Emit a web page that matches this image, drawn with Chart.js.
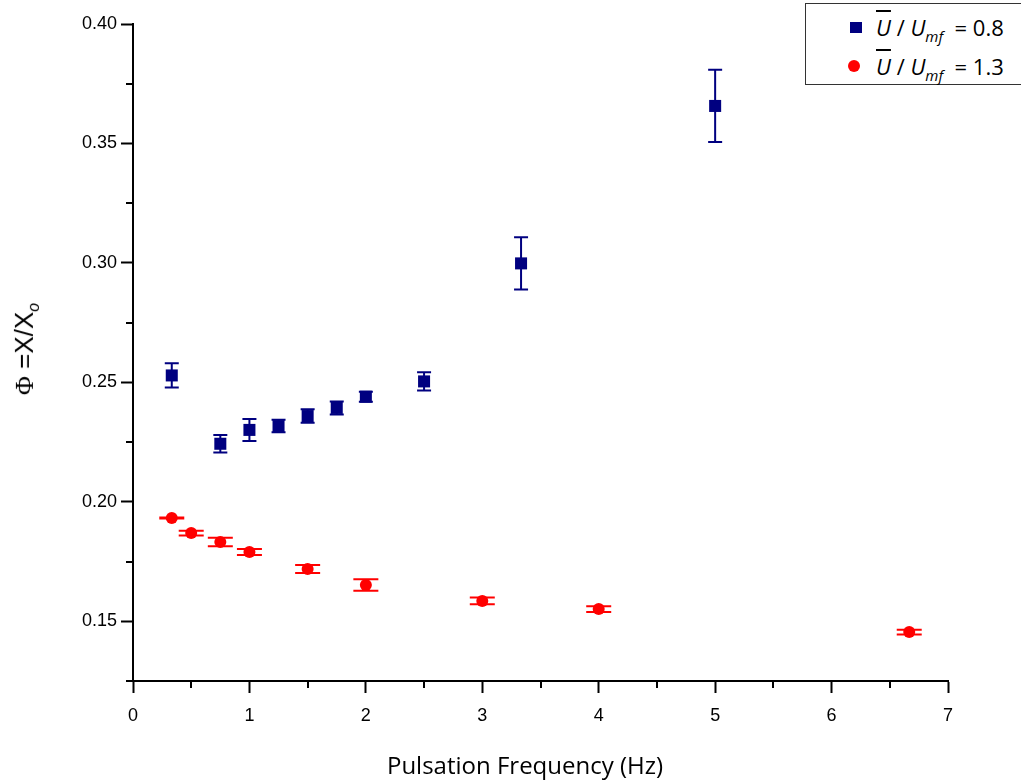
<!DOCTYPE html>
<html>
<head>
<meta charset="utf-8">
<script src="https://cdn.jsdelivr.net/npm/chart.js@4.4.1/dist/chart.umd.min.js"></script>
<style>
  html, body { margin: 0; padding: 0; background: #fff; }
  #wrap { position: relative; width: 1021px; height: 783px; overflow: hidden; }
  #chart { position: absolute; left: 0; top: 0; }
  .legend { position: absolute; left: 805px; top: 3px; width: 230px; height: 80px;
    border: 1px solid #333; background: #fff; font-family: "Open Sans", sans-serif; font-size: 22px; color: #000; }
  .row { position: absolute; left: 0; height: 30px; line-height: 30px; white-space: nowrap; }
  .mk { position: absolute; }
  .lt { position: absolute; left: 70px; }
  .ov { text-decoration: overline; font-style: italic; }
  .it { font-style: italic; }
  .sb { font-style: italic; font-size: 15px; position: relative; top: 6px; }
  #ytitle { position: absolute; left: 26px; top: 349px; transform: translate(-50%, -50%) rotate(-90deg);
    font-family: "Liberation Sans", Arial, sans-serif; font-size: 26px; white-space: nowrap; }
  #ytitle .phi { font-family: "Liberation Serif", serif; }
  #ytitle sub { font-size: 16px; font-style: italic; }
  #xtitle { position: absolute; left: 525px; top: 764px; transform: translate(-50%, -50%);
    font-family: "Open Sans", sans-serif; font-size: 24px; white-space: nowrap; }
</style>
</head>
<body>
<div id="wrap">
  <canvas id="chart" width="1021" height="783"></canvas>
  <div id="ytitle"><span class="phi">&Phi;</span> =X/X<sub>o</sub></div>
  <div id="xtitle">Pulsation Frequency (Hz)</div>
  <div class="legend">
    <div class="row" style="top: 8px;">
      <span class="mk" style="left: 44px; top: 10px; width: 12px; height: 11px; background: #000080;"></span>
      <span class="lt"><span class="ov">U</span> / <span class="it">U</span><span class="sb">mf</span>&nbsp; = 0.8</span>
    </div>
    <div class="row" style="top: 47px;">
      <span class="mk" style="left: 42px; top: 9px; width: 12px; height: 12px; border-radius: 50%; background: #ff0000;"></span>
      <span class="lt"><span class="ov">U</span> / <span class="it">U</span><span class="sb">mf</span>&nbsp; = 1.3</span>
    </div>
  </div>
</div>
<script>
// Ū/Umf = 0.8
const blueX = [0.333, 0.75, 1.0, 1.25, 1.5, 1.75, 2.0, 2.5, 3.333, 5.0];
const blueY = [0.2529, 0.2243, 0.2301, 0.2317, 0.2359, 0.2393, 0.2440, 0.2504, 0.2998, 0.3657];
const blueErr = [0.0051, 0.0037, 0.0046, 0.0026, 0.0028, 0.0027, 0.0021, 0.0038, 0.0109, 0.0151];

// Ū/Umf = 1.3
const redX = [0.333, 0.5, 0.75, 1.0, 1.5, 2.0, 3.0, 4.0, 6.667];
const redY = [0.1932, 0.1869, 0.1832, 0.1790, 0.1719, 0.1652, 0.1585, 0.1551, 0.1455];
const redErr = [0.0002, 0.0010, 0.0018, 0.0013, 0.0017, 0.0024, 0.0014, 0.0012, 0.0010];

const xTicks = [0, 1, 2, 3, 4, 5, 6, 7];
const xMinor = [0.5, 1.5, 2.5, 3.5, 4.5, 5.5, 6.5];
const yTicks = [0.15, 0.20, 0.25, 0.30, 0.35, 0.40];
const yMinor = [0.125, 0.175, 0.225, 0.275, 0.325, 0.375];

function pts(xs, ys) {
  return xs.map((x, i) => ({ x: x, y: ys[i] }));
}

// vertical error bars, drawn under the markers
const errorBars = {
  id: 'errorBars',
  beforeDatasetsDraw(chart) {
    const ctx = chart.ctx;
    const xs = chart.scales.x, ys = chart.scales.y;
    chart.data.datasets.forEach(ds => {
      ctx.save();
      ctx.strokeStyle = ds.errColor;
      ctx.lineWidth = 2;
      ds.data.forEach((p, i) => {
        const px = xs.getPixelForValue(p.x);
        const top = ys.getPixelForValue(p.y + ds.err[i]);
        const bot = ys.getPixelForValue(p.y - ds.err[i]);
        ctx.beginPath();
        ctx.moveTo(px, top); ctx.lineTo(px, bot);
        ctx.moveTo(px - ds.cap, top); ctx.lineTo(px + ds.cap, top);
        ctx.moveTo(px - ds.cap, bot); ctx.lineTo(px + ds.cap, bot);
        ctx.stroke();
      });
      ctx.restore();
    });
  }
};

// short minor ticks
const minorTicks = {
  id: 'minorTicks',
  afterDraw(chart) {
    const ctx = chart.ctx;
    const xs = chart.scales.x, ys = chart.scales.y;
    const area = chart.chartArea;
    ctx.save();
    ctx.strokeStyle = '#000';
    ctx.lineWidth = 2;
    ctx.beginPath();
    xMinor.forEach(v => {
      const px = Math.round(xs.getPixelForValue(v));
      ctx.moveTo(px, area.bottom); ctx.lineTo(px, area.bottom + 7);
    });
    yMinor.forEach(v => {
      const py = Math.round(ys.getPixelForValue(v));
      ctx.moveTo(area.left, py); ctx.lineTo(area.left - 7, py);
    });
    ctx.stroke();
    ctx.restore();
  }
};

const tickFont = { family: '"Liberation Sans", Arial, sans-serif', size: 18 };

new Chart(document.getElementById('chart'), {
  type: 'scatter',
  data: {
    datasets: [
      {
        label: 'U/Umf = 0.8',
        data: pts(blueX, blueY),
        err: blueErr,
        errColor: '#000080',
        cap: 7,
        pointStyle: 'rect',
        pointRadius: 8.5,
        backgroundColor: '#000080',
        borderColor: '#000080',
        borderWidth: 0
      },
      {
        label: 'U/Umf = 1.3',
        data: pts(redX, redY),
        err: redErr,
        errColor: '#ff0000',
        cap: 12.5,
        pointStyle: 'circle',
        pointRadius: 6,
        backgroundColor: '#ff0000',
        borderColor: '#ff0000',
        borderWidth: 0
      }
    ]
  },
  options: {
    responsive: false,
    animation: false,
    layout: { padding: { top: 24, right: 73, left: 0, bottom: 0 } },
    plugins: { legend: { display: false }, tooltip: { enabled: false } },
    scales: {
      x: {
        type: 'linear',
        min: 0,
        max: 7,
        afterBuildTicks: s => { s.ticks = xTicks.map(v => ({ value: v })); },
        afterFit: s => { s.height = 102; },
        ticks: { font: tickFont, color: '#000', padding: 12, maxRotation: 0 },
        grid: { drawOnChartArea: false, drawTicks: true, tickLength: 12, tickWidth: 2, tickColor: '#000' },
        border: { display: true, color: '#000', width: 2 }
      },
      y: {
        type: 'linear',
        min: 0.125,
        max: 0.40,
        afterBuildTicks: s => { s.ticks = yTicks.map(v => ({ value: v })); },
        afterFit: s => { s.width = 133; },
        ticks: { font: tickFont, color: '#000', padding: 4, callback: v => v.toFixed(2) },
        grid: { drawOnChartArea: false, drawTicks: true, tickLength: 12, tickWidth: 2, tickColor: '#000' },
        border: { display: true, color: '#000', width: 2 }
      }
    }
  },
  plugins: [errorBars, minorTicks]
});
</script>
</body>
</html>
